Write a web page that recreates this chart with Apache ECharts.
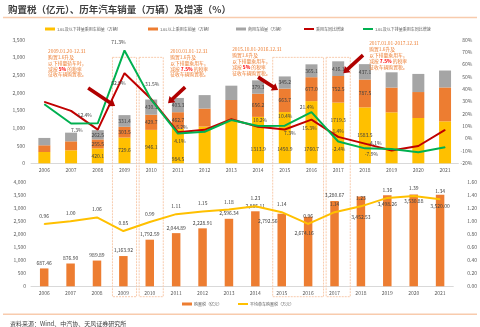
<!DOCTYPE html>
<html><head><meta charset="utf-8">
<script src="https://cdn.jsdelivr.net/npm/echarts@6/dist/echarts.min.js"></script>
<style>html,body{margin:0;padding:0;background:#fff}#c{width:480px;height:327px}</style>
</head><body><div id="c"></div>
<script>
// ---------- data ----------
const years = ['2006','2007','2008','2009','2010','2011','2012','2013','2014','2015','2016','2017','2018','2019','2020','2021'];
const smallCarSales = [320,368,420.1,729.6,946.1,984.5,1040,1225,1313.9,1450.9,1760.7,1719.3,1583.5,1443,1283,1188];
const largeCarSales = [190,254,255.5,303.5,429.7,462.7,510,568,656.2,663.7,677.0,752.5,787.5,701,735,960];
const commercialSales = [208,246,262.5,331.4,430.3,403.3,381,405,379.3,345.2,365.1,416.1,437.1,433,513,479];
const carGrowth = [29.7,22.4,7.3,52.9,32.0,5.2,7.1,15.7,9.5,7.3,15.3,1.4,-4.1,-9.6,-6.0,7.0];
const smallCarGrowth = [27.8,12.2,12.4,71.3,31.5,4.1,5.5,15.0,10.2,10.4,21.4,-2.4,-7.9,-8.5,-11.0,-7.0];
const purchaseTax = [687.46,876.90,989.89,1163.92,1792.59,2044.89,2228.91,2596.34,2885.11,2792.56,2674.16,3280.67,3452.53,3498.26,3530.88,3520.00];
const avgTax = [0.96,1.00,1.06,0.85,0.99,1.11,1.15,1.18,1.23,1.14,0.96,1.14,1.23,1.36,1.39,1.34];
const salesTicks = {min:0, max:3500, step:500};
const growthTicks = {min:-20, max:80, step:10};
const taxTicks = {min:0, max:4000, step:500};
const avgTicks = {min:0, max:1.6, step:0.2};

const title = '购置税（亿元）、历年汽车销量（万辆）及增速（%）';
const source = '资料来源：Wind、中汽协、天风证券研究所';
const names = ['1.6L及以下排量乘用车销量（万辆）','1.6L以上乘用车销量（万辆）','商用车销量（万辆）','乘用车同比增速','1.6L及以下排量乘用车同比增速','购置税（亿元）','平均单车购置税（万元）'];

// ---------- label placement (style only) ----------
const labeledSalesYears = [2,3,4,5,8,9,10,11,12];
const smallLabelShift = [0,0,0,0,0,13,0,0,9,11,17,-13,0,0,0,0];
const greenLabelOffset = {2:[-13,-8],3:[-6,-8.5],4:[1,-16],5:[2,8],8:[2,-5.5],9:[0.5,-9.5],10:[-4.5,-5],11:[0.5,7.5],12:[6.5,5.5]};
const redLabelOffset = {2:[-21,1],3:[-6,10],5:[4,-5.5],9:[5,4],10:[-2,8],11:[0,-5.5],12:[10,-0.5]};
const taxLabelDrop = [0,0,0,0,0,0,0,0,0,4.5,13.5,0,18,6.5,4,8.5];
const taxLabelDx = [0,0,0,0,0,0,0,0,0,-14,-4,0,0,0,0,0];

const FONT = "'Noto Sans CJK SC','Noto Sans',sans-serif";
const YEL='#FFC000', ORG='#ED7D31', GRY='#A5A5A5', RED='#C00000', GRN='#00B050';
const fmtComma = (v,d)=>Number(v).toLocaleString('en-US',{minimumFractionDigits:d,maximumFractionDigits:d});
const axisLbl = {color:'#595959', fontSize:5, fontFamily:FONT};

function segLabel(arr, shift){
  return arr.map((v,i)=>({value:v, label:{show:labeledSalesYears.includes(i), offset:[0, shift?shift[i]:0]}}));
}
function lineLabel(arr, offs){
  return arr.map((v,i)=>offs[i]?{value:v,label:{show:true,position:'inside',offset:offs[i]}}:{value:v});
}

const chart = echarts.init(document.getElementById('c'), null, {renderer:'canvas'});
const barLabelStyle = {color:'#404040', fontSize:5, fontFamily:FONT, position:'inside', formatter:p=>p.value.toFixed(1)};

function legendAt(name, x, y, icon, h){
  return {data:[name], left:x, top:y, padding:0, itemWidth:10, itemHeight:h, icon:icon,
    textStyle:{fontSize:4, color:'#595959', fontFamily:FONT, padding:[0,0,0,-3]}, selectedMode:false};
}

const option = {
  animation:false,
  backgroundColor:'#fff',
  title:{text:title, left:8, top:5, padding:0, textStyle:{fontSize:9.5, fontWeight:'bold', color:'#404040', fontFamily:FONT}},
  legend:[
    legendAt(names[0],45,27,'rect',3),
    legendAt(names[1],148,27,'rect',3),
    legendAt(names[2],236,27,'rect',3),
    legendAt(names[3],304,27,'rect',2),
    legendAt(names[4],363,27,'rect',2),
    legendAt(names[5],182,302,'rect',3),
    legendAt(names[6],238,302,'rect',2)
  ],
  grid:[
    {left:31, right:21.6, top:39.7, height:123.6},
    {left:31, right:21.6, top:182.3, height:104}
  ],
  xAxis:[
    {type:'category', data:years, gridIndex:0, axisTick:{show:false}, axisLine:{lineStyle:{color:'#D9D9D9'}}, axisLabel:{...axisLbl, margin:4}},
    {type:'category', data:years, gridIndex:1, axisTick:{show:false}, axisLine:{lineStyle:{color:'#D9D9D9'}}, axisLabel:{...axisLbl, margin:4}}
  ],
  yAxis:[
    {type:'value', gridIndex:0, min:salesTicks.min, max:salesTicks.max, interval:salesTicks.step, splitLine:{show:false}, axisLabel:{...axisLbl, margin:6, formatter:v=>fmtComma(v,0)}},
    {type:'value', gridIndex:0, position:'right', min:growthTicks.min, max:growthTicks.max, interval:growthTicks.step, splitLine:{show:false}, axisLabel:{...axisLbl, margin:14, align:'right', formatter:v=>v+'%'}},
    {type:'value', gridIndex:1, min:taxTicks.min, max:taxTicks.max, interval:taxTicks.step, splitLine:{show:false}, axisLabel:{...axisLbl, margin:5, formatter:v=>fmtComma(v,0)}},
    {type:'value', gridIndex:1, position:'right', min:avgTicks.min, max:avgTicks.max, interval:avgTicks.step, splitLine:{show:false}, axisLabel:{...axisLbl, margin:14, formatter:v=>v.toFixed(2)}}
  ],
  series:[
    {name:names[0], type:'bar', stack:'s', xAxisIndex:0, yAxisIndex:0, barWidth:12, itemStyle:{color:YEL}, label:barLabelStyle, data:segLabel(smallCarSales, smallLabelShift)},
    {name:names[1], type:'bar', stack:'s', xAxisIndex:0, yAxisIndex:0, barWidth:12, itemStyle:{color:ORG}, label:barLabelStyle, data:segLabel(largeCarSales)},
    {name:names[2], type:'bar', stack:'s', xAxisIndex:0, yAxisIndex:0, barWidth:12, itemStyle:{color:GRY}, label:barLabelStyle, data:segLabel(commercialSales)},
    {name:names[3], type:'line', xAxisIndex:0, yAxisIndex:1, symbol:'circle', symbolSize:1, lineStyle:{color:RED, width:2}, itemStyle:{color:RED},
      label:{show:false, color:'#404040', fontSize:5, fontFamily:FONT, formatter:p=>p.value.toFixed(1)+'%'}, data:lineLabel(carGrowth, redLabelOffset)},
    {name:names[4], type:'line', xAxisIndex:0, yAxisIndex:1, symbol:'circle', symbolSize:1, lineStyle:{color:GRN, width:2}, itemStyle:{color:GRN},
      label:{show:false, color:'#404040', fontSize:5, fontFamily:FONT, formatter:p=>p.value.toFixed(1)+'%'}, data:lineLabel(smallCarGrowth, greenLabelOffset)},
    {name:names[5], type:'bar', xAxisIndex:1, yAxisIndex:2, barWidth:8.5, itemStyle:{color:ORG},
      data:purchaseTax.map((v,i)=>({value:v, label: taxLabelDrop[i] ? {position:'insideTop', distance:taxLabelDrop[i], offset:[taxLabelDx[i],0]} : {position:'top', distance:3}})),
      label:{show:true, color:'#404040', fontSize:5, fontFamily:FONT, formatter:p=>fmtComma(p.value,2)}},
    {name:names[6], type:'line', xAxisIndex:1, yAxisIndex:3, symbol:'circle', symbolSize:1, lineStyle:{color:YEL, width:2}, itemStyle:{color:YEL},
      label:{show:true, position:'top', distance:5, color:'#404040', fontSize:5, fontFamily:FONT, formatter:p=>p.value.toFixed(2)}, data:avgTax}
  ]
};
chart.setOption(option);

// ---------- annotations, anchored to the axes ----------
function P(gi, idx, val){
  const a = chart.convertToPixel({gridIndex:gi},[0,val]);
  const b = chart.convertToPixel({gridIndex:gi},[1,val]);
  return [a[0] + idx*(b[0]-a[0]), a[1]];
}
const boxes = [[3,3],[4,4],[9,10],[11,11]];
const arrows = [[[1.64,2131],[2.65,1621]],[[5.27,2156],[4.63,1703]],[[8.0,2440],[8.75,2074]],[[11.93,3062],[11.19,2553]]];
const notes = [
  {at:[0.14,3250], lines:['2009.01.20-12.31','购置1.6升及','以下排量轿车时，'], rate:'5%'},
  {at:[4.71,3250], lines:['2010.01.01-12.31','购置1.6升及','以下排量乘用车，'], rate:'7.5%'},
  {at:[7.03,3305], lines:['2015.10.01-2016.12.31','购置1.6升及','以下排量乘用车，'], rate:'5%'},
  {at:[12.16,3475], lines:['2017.01.01-2017.12.31','购置1.6升及','以下排量乘用车，'], rate:'7.5%'}
];
const g = [];
const W = chart.getWidth();
g.push({type:'line', shape:{x1:3,y1:17.5,x2:W-3,y2:17.5}, style:{stroke:'#F8CBAD', lineWidth:1.5}});
g.push({type:'line', shape:{x1:3,y1:314.3,x2:W-3,y2:314.3}, style:{stroke:'#F8CBAD', lineWidth:1.5}});
g.push({type:'text', x:10, y:323.3, style:{text:source, fill:'#404040', fontSize:6, fontFamily:FONT, verticalAlign:'middle'}});
const topY = P(0,0,3000)[1];
const botY = P(1,0,0)[1] + 10.4;
const half = (P(0,1,0)[0]-P(0,0,0)[0])/2 - 1.3;
boxes.forEach(([s,e])=>{
  const x1 = P(0,s,0)[0]-half, x2 = P(0,e,0)[0]+half;
  g.push({type:'rect', shape:{x:x1,y:topY,width:x2-x1,height:botY-topY}, style:{fill:'none', stroke:'#F8CBAD', lineWidth:1, lineDash:[2,1]}, z:1});
});
arrows.forEach(([s,e])=>{
  const S = P(0,s[0],s[1]), E = P(0,e[0],e[1]);
  const dx=E[0]-S[0], dy=E[1]-S[1], L=Math.hypot(dx,dy), ux=dx/L, uy=dy/L, nx=-uy, ny=ux;
  const w=1.8, hw=4.3, hl=6;
  const B=[E[0]-ux*hl, E[1]-uy*hl];
  const pts=[[S[0]+nx*w,S[1]+ny*w],[B[0]+nx*w,B[1]+ny*w],[B[0]+nx*hw,B[1]+ny*hw],E,[B[0]-nx*hw,B[1]-ny*hw],[B[0]-nx*w,B[1]-ny*w],[S[0]-nx*w,S[1]-ny*w]];
  g.push({type:'polygon', shape:{points:pts}, style:{fill:'#B00000'}, z:10});
});
notes.forEach(n=>{
  const p = P(0,n.at[0],n.at[1]);
  const txt = n.lines.map(l=>'{o|'+l+'}').join('\n') + '\n{o|减按 }{r|'+n.rate+'}{o| 的税率}\n{o|征收车辆购置税。}';
  g.push({type:'text', x:p[0], y:p[1], z:10, style:{text:txt, fontFamily:FONT, fontSize:4.8, lineHeight:5.8,
    rich:{o:{fill:'#ED7D31', fontSize:4.8, lineHeight:5.8, fontFamily:FONT}, r:{fill:'#FF0000', fontSize:4.8, lineHeight:5.8, fontWeight:'bold', fontFamily:FONT}}}});
});
chart.setOption({graphic:g});
</script></body></html>
